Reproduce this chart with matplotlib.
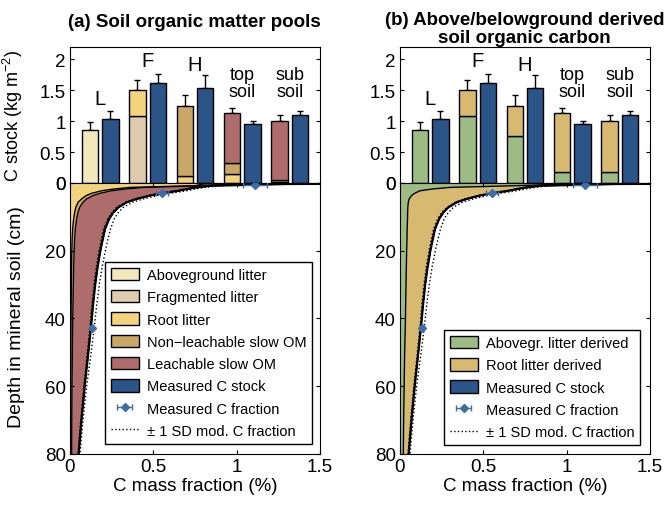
import matplotlib
matplotlib.use("Agg")
import matplotlib.pyplot as plt
from matplotlib.patches import Patch
from matplotlib.lines import Line2D
import numpy as np

plt.rcParams['font.family'] = ['Liberation Sans', 'DejaVu Sans']
plt.rcParams['mathtext.fontset'] = 'custom'
plt.rcParams['mathtext.rm'] = 'Liberation Sans'
plt.rcParams['mathtext.it'] = 'Liberation Sans:italic'

# bar data (C stock, kg m-2)
groups = ["L", "F", "H", "top\nsoil", "sub\nsoil"]
above_litter = [0.853, 0.0, 0.0, 0.0, 0.0]
frag_litter = [0.0, 1.088, 0.0, 0.0, 0.0]
root_litter = [0.0, 0.418, 0.11, 0.15, 0.02]
nonleach_om = [0.0, 0.0, 1.135, 0.17, 0.03]
leach_om = [0.0, 0.0, 0.0, 0.817, 0.95]
model_err = [0.127, 0.164, 0.175, 0.073, 0.10]
measured_stock = [1.033, 1.61, 1.53, 0.957, 1.093]
measured_err = [0.127, 0.16, 0.21, 0.043, 0.067]
above_derived = [0.853, 1.088, 0.755, 0.185, 0.175]
root_derived = [0.0, 0.418, 0.49, 0.952, 0.825]

# depth profiles (C mass fraction, %)
depth = [0, 0.3, 0.8, 1.3, 1.8, 2.3, 3.05, 3.7, 4.7, 5.7, 7.2, 8.7, 10.6,
         13.6, 16.5, 20, 25, 30, 36, 42, 50, 60, 70, 80]
total_frac = [3.0, 1.3, 0.85, 0.76, 0.70, 0.65, 0.55, 0.48, 0.40, 0.34, 0.29,
              0.26, 0.235, 0.21, 0.197, 0.182, 0.165, 0.151, 0.138, 0.127,
              0.11, 0.088, 0.069, 0.052]
sd_low = [3.0, 1.28, 0.83, 0.745, 0.69, 0.64, 0.54, 0.47, 0.39, 0.33, 0.28,
          0.25, 0.226, 0.201, 0.188, 0.174, 0.157, 0.144, 0.131, 0.121,
          0.104, 0.083, 0.064, 0.048]
sd_high = [3.0, 1.36, 0.90, 0.81, 0.75, 0.70, 0.60, 0.525, 0.44, 0.375, 0.32,
           0.29, 0.265, 0.243, 0.228, 0.212, 0.192, 0.176, 0.16, 0.147,
           0.127, 0.1, 0.078, 0.06]
root_bound = [1.6, 0.8, 0.75, 0.36, 0.26, 0.19, 0.13, 0.098, 0.07, 0.048,
              0.035, 0.028, 0.022, 0.016, 0.013, 0.011, 0.009, 0.008, 0.007,
              0.006, 0.005, 0.004, 0.0035, 0.003]
nonleach_bound = [2.0, 1.0, 0.82, 0.45, 0.33, 0.25, 0.18, 0.14, 0.1, 0.078,
                  0.058, 0.048, 0.04, 0.032, 0.028, 0.025, 0.022, 0.02, 0.018,
                  0.016, 0.014, 0.012, 0.011, 0.01]
green_bound = [2.5, 1.0, 0.7, 0.3, 0.19, 0.12, 0.088, 0.07, 0.055, 0.05,
               0.047, 0.046, 0.045, 0.043, 0.042, 0.04, 0.038, 0.036, 0.034,
               0.032, 0.028, 0.025, 0.022, 0.02]

meas_frac = [0.55, 1.11, 0.134]
meas_depth = [3.05, 0.7, 42.8]
meas_frac_err = [0.036, 0.07, 0.0]

c_above = "#F3E7BC"
c_frag = "#DFCBAE"
c_root = "#F3D47C"
c_nonleach = "#C8A767"
c_leach = "#AE6D6C"
c_meas = "#2B5488"
c_green = "#9CBC84"
c_rootder = "#D8B970"
c_point = "#3D6DA6"

TICK_FS = 13.5
LABEL_FS = 13.5

fig = plt.figure(figsize=(6.66, 5.06), dpi=100)

x = np.arange(1, 6)
bw = 0.348
off = 0.216


def style_axes(ax):
    ax.tick_params(direction='in', top=True, right=True, labelsize=TICK_FS,
                   length=3, pad=3)


def draw_bars(ax, stacks):
    for i in range(5):
        bottom = 0.0
        for vals, col in stacks:
            if vals[i] > 0:
                ax.bar(x[i] - off, vals[i], bw, bottom=bottom, color=col,
                       edgecolor='black', linewidth=1, zorder=2)
                bottom += vals[i]
        ax.errorbar(x[i] - off, bottom, yerr=[[0], [model_err[i]]], fmt='none',
                    ecolor='black', elinewidth=1, capsize=2.5, zorder=1)
    ax.bar(x + off, measured_stock, bw, color=c_meas, edgecolor='black',
           linewidth=1, zorder=2)
    ax.errorbar(x + off, measured_stock, yerr=[np.zeros(5), measured_err],
                fmt='none', ecolor='black', elinewidth=1, capsize=2.5, zorder=1)
    ax.set_xlim(0.363, 5.637)
    ax.set_ylim(0, 2.2)
    ax.set_yticks([0, 0.5, 1, 1.5, 2])
    ax.set_yticklabels(["0", "0.5", "1", "1.5", "2"])
    ax.set_xticks([])
    style_axes(ax)
    label_y = [1.36, 1.98, 1.92, 1.62, 1.62]
    for i, g in enumerate(groups):
        fs = 14.5 if "\n" not in g else 13
        ax.text(x[i], label_y[i], g, ha='center', va='center', fontsize=fs,
                linespacing=1.0)


def draw_profile(ax, fills):
    left = [0.0] * len(depth)
    for bound, col in fills:
        ax.fill_betweenx(depth, left, bound, color=col, linewidth=0)
        ax.plot(bound, depth, color='black', linewidth=1)
        left = bound
    ax.plot(total_frac, depth, color='black', linewidth=1.6)
    ax.plot(sd_low, depth, color='black', linewidth=1, linestyle=':')
    ax.plot(sd_high, depth, color='black', linewidth=1, linestyle=':')
    pts = ax.errorbar(meas_frac, meas_depth, xerr=meas_frac_err, fmt='D',
                      color=c_point, markersize=4.5, capsize=2.5, elinewidth=1,
                      zorder=5, label="Measured C fraction")
    ax.set_xlim(0, 1.5)
    ax.set_ylim(80, 0)
    ax.set_xticks([0, 0.5, 1, 1.5])
    ax.set_xticklabels(["0", "0.5", "1", "1.5"])
    ax.set_yticks([0, 20, 40, 60, 80])
    ax.set_xlabel("C mass fraction (%)", fontsize=LABEL_FS, labelpad=1)
    style_axes(ax)
    return pts


def legend_handles(items, pts):
    hs = [Patch(facecolor=c, edgecolor='black', linewidth=1, label=l)
          for l, c in items]
    hs.append(pts)
    hs.append(Line2D([], [], color='black', linestyle=':', linewidth=1,
                     label="± 1 SD mod. C fraction"))
    return hs


LEG_KW = dict(fontsize=10.5, frameon=True, fancybox=False, edgecolor='black',
              framealpha=1, borderpad=0.4, labelspacing=0.55,
              handlelength=1.9, handleheight=0.95, handletextpad=0.55,
              borderaxespad=0)

# panel a
ax_a_top = fig.add_axes([0.1051, 0.6364, 0.3754, 0.2688])
draw_bars(ax_a_top, [(above_litter, c_above), (frag_litter, c_frag),
                     (root_litter, c_root), (nonleach_om, c_nonleach),
                     (leach_om, c_leach)])
ax_a_top.set_ylabel("C stock (kg m$^{-2}$)", fontsize=13)
ax_a_top.yaxis.set_label_coords(-0.18, 0.5)

ax_a = fig.add_axes([0.1051, 0.1008, 0.3754, 0.5356])
pts_a = draw_profile(ax_a, [(root_bound, c_root), (nonleach_bound, c_nonleach),
                            (total_frac, c_leach)])
ax_a.set_ylabel("Depth in mineral soil (cm)", fontsize=14)
ax_a.yaxis.set_label_coords(-0.18, 0.51)
hs = legend_handles([("Aboveground litter", c_above),
                     ("Fragmented litter", c_frag),
                     ("Root litter", c_root),
                     ("Non\u2212leachable slow OM", c_nonleach),
                     ("Leachable slow OM", c_leach),
                     ("Measured C stock", c_meas)], pts_a)
ax_a.legend(handles=hs, loc='lower right', bbox_to_anchor=(0.968, 0.037),
            **LEG_KW)

# panel b
ax_b_top = fig.add_axes([0.6006, 0.6364, 0.3754, 0.2688])
draw_bars(ax_b_top, [(above_derived, c_green), (root_derived, c_rootder)])

ax_b = fig.add_axes([0.6006, 0.1008, 0.3754, 0.5356])
pts_b = draw_profile(ax_b, [(green_bound, c_green), (total_frac, c_rootder)])
hs = legend_handles([("Abovegr. litter derived", c_green),
                     ("Root litter derived", c_rootder),
                     ("Measured C stock", c_meas)], pts_b)
ax_b.legend(handles=hs, loc='lower right', bbox_to_anchor=(0.96, 0.033),
            **LEG_KW)

fig.text(0.292, 0.955, "(a) Soil organic matter pools", ha='center',
         va='center', fontsize=13.5, fontweight='bold')
fig.text(0.788, 0.942, "(b) Above/belowground derived\nsoil organic carbon",
         ha='center', va='center', fontsize=13.5, fontweight='bold',
         linespacing=1.05)

fig.savefig("out.png", dpi=100)
